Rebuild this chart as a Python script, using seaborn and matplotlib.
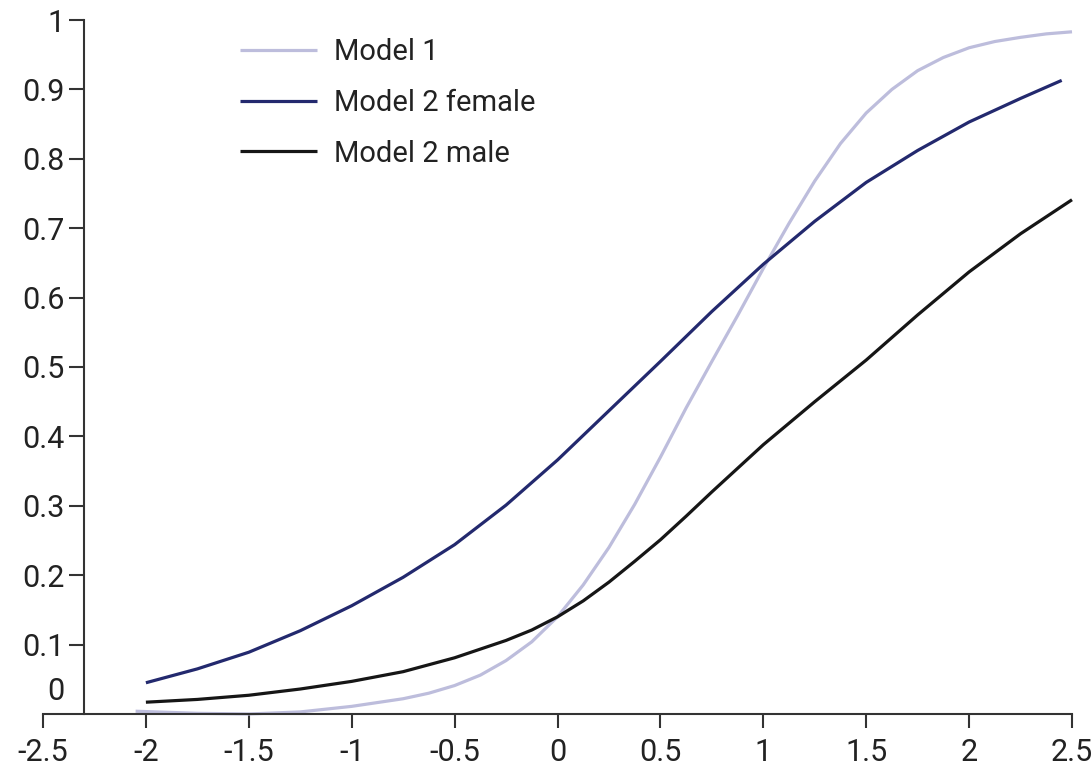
import matplotlib
matplotlib.use("Agg")
import matplotlib.pyplot as plt
import seaborn as sns

# ---- data ----
x_model1 = [-2.05, -1.75, -1.5, -1.25, -1.0, -0.75, -0.625, -0.5, -0.375, -0.25, -0.125,
            0.0, 0.125, 0.25, 0.375, 0.5, 0.625, 0.75, 0.875, 1.0, 1.125, 1.25, 1.375,
            1.5, 1.625, 1.75, 1.875, 2.0, 2.125, 2.25, 2.375, 2.5]
y_model1 = [0.004, 0.001, 0.0, 0.003, 0.011, 0.022, 0.030, 0.041, 0.056, 0.077, 0.104,
            0.140, 0.186, 0.240, 0.302, 0.370, 0.441, 0.508, 0.574, 0.642, 0.707, 0.768, 0.822,
            0.866, 0.900, 0.927, 0.946, 0.960, 0.969, 0.975, 0.980, 0.983]

x_female = [-2.0, -1.75, -1.5, -1.25, -1.0, -0.75, -0.5, -0.25, 0.0, 0.25, 0.5, 0.75,
            1.0, 1.25, 1.5, 1.75, 2.0, 2.25, 2.45]
y_female = [0.045, 0.065, 0.089, 0.120, 0.156, 0.197, 0.244, 0.301, 0.366, 0.437, 0.508, 0.580,
            0.648, 0.710, 0.766, 0.812, 0.853, 0.887, 0.913]

x_male = [-2.0, -1.75, -1.5, -1.25, -1.0, -0.75, -0.5, -0.25, -0.125, 0.0, 0.125, 0.25,
          0.375, 0.5, 0.625, 0.75, 1.0, 1.25, 1.5, 1.75, 2.0, 2.25, 2.5]
y_male = [0.017, 0.021, 0.027, 0.036, 0.047, 0.061, 0.081, 0.106, 0.121, 0.140, 0.163, 0.190,
          0.220, 0.251, 0.285, 0.320, 0.388, 0.450, 0.510, 0.575, 0.637, 0.692, 0.741]

labels = ["Model 1", "Model 2 female", "Model 2 male"]
colors = ["#bdbddc", "#23296e", "#161616"]

x_ticks = [-2.5, -2, -1.5, -1, -0.5, 0, 0.5, 1, 1.5, 2, 2.5]
x_ticklabels = ["-2.5", "-2", "-1.5", "-1", "-0.5", "0", "0.5", "1", "1.5", "2", "2.5"]
y_ticks = [0.1, 0.2, 0.3, 0.4, 0.5, 0.6, 0.7, 0.8, 0.9, 1.0]
y_ticklabels = ["0.1", "0.2", "0.3", "0.4", "0.5", "0.6", "0.7", "0.8", "0.9", "1"]

# ---- style ----
sns.set_theme(style="ticks")
plt.rcParams["font.family"] = ["Roboto", "DejaVu Sans"]
text_color = "#222222"

fig = plt.figure(figsize=(10.91, 7.68), dpi=100)
W, H = 1091, 768
ax = fig.add_axes([43 / W, 1 - 714 / H, (1072 - 43) / W, (714 - 20) / H])

for xs, ys, lab, col in [(x_model1, y_model1, labels[0], colors[0]),
                          (x_female, y_female, labels[1], colors[1]),
                          (x_male, y_male, labels[2], colors[2])]:
    sns.lineplot(x=xs, y=ys, color=col, label=lab, linewidth=2.3, ax=ax,
                 clip_on=False, sort=False, solid_joinstyle="round",
                 solid_capstyle="butt")

ax.set_xlim(-2.5, 2.5)
ax.set_ylim(0, 1)

ax.spines["top"].set_visible(False)
ax.spines["right"].set_visible(False)
ax.spines["left"].set_position(("data", -2.3))
ax.spines["bottom"].set_position(("data", 0))
for s in ("left", "bottom"):
    ax.spines[s].set_color("#333333")
    ax.spines[s].set_linewidth(1.5)

ax.set_xticks(x_ticks)
ax.set_xticklabels(x_ticklabels)
ax.set_yticks(y_ticks)
ax.set_yticklabels(y_ticklabels)
ax.tick_params(axis="both", colors="#333333", labelcolor=text_color, labelsize=22,
               width=1.5)
ax.tick_params(axis="y", length=11, pad=3)
ax.tick_params(axis="x", length=10, pad=7)

ax.annotate("0", xy=(-2.3, 0.033), xytext=(-14.5, 0), textcoords="offset points",
            ha="right", va="center", fontsize=22, color=text_color)

leg = ax.legend(loc="upper left", bbox_to_anchor=(240 / W, 1 - 38 / H),
                bbox_transform=fig.transFigure, frameon=False, fontsize=21,
                handlelength=2.65, handletextpad=0.58, labelspacing=0.78,
                borderpad=0, borderaxespad=0)
for t in leg.get_texts():
    t.set_color(text_color)

fig.savefig("out.png", dpi=100)
